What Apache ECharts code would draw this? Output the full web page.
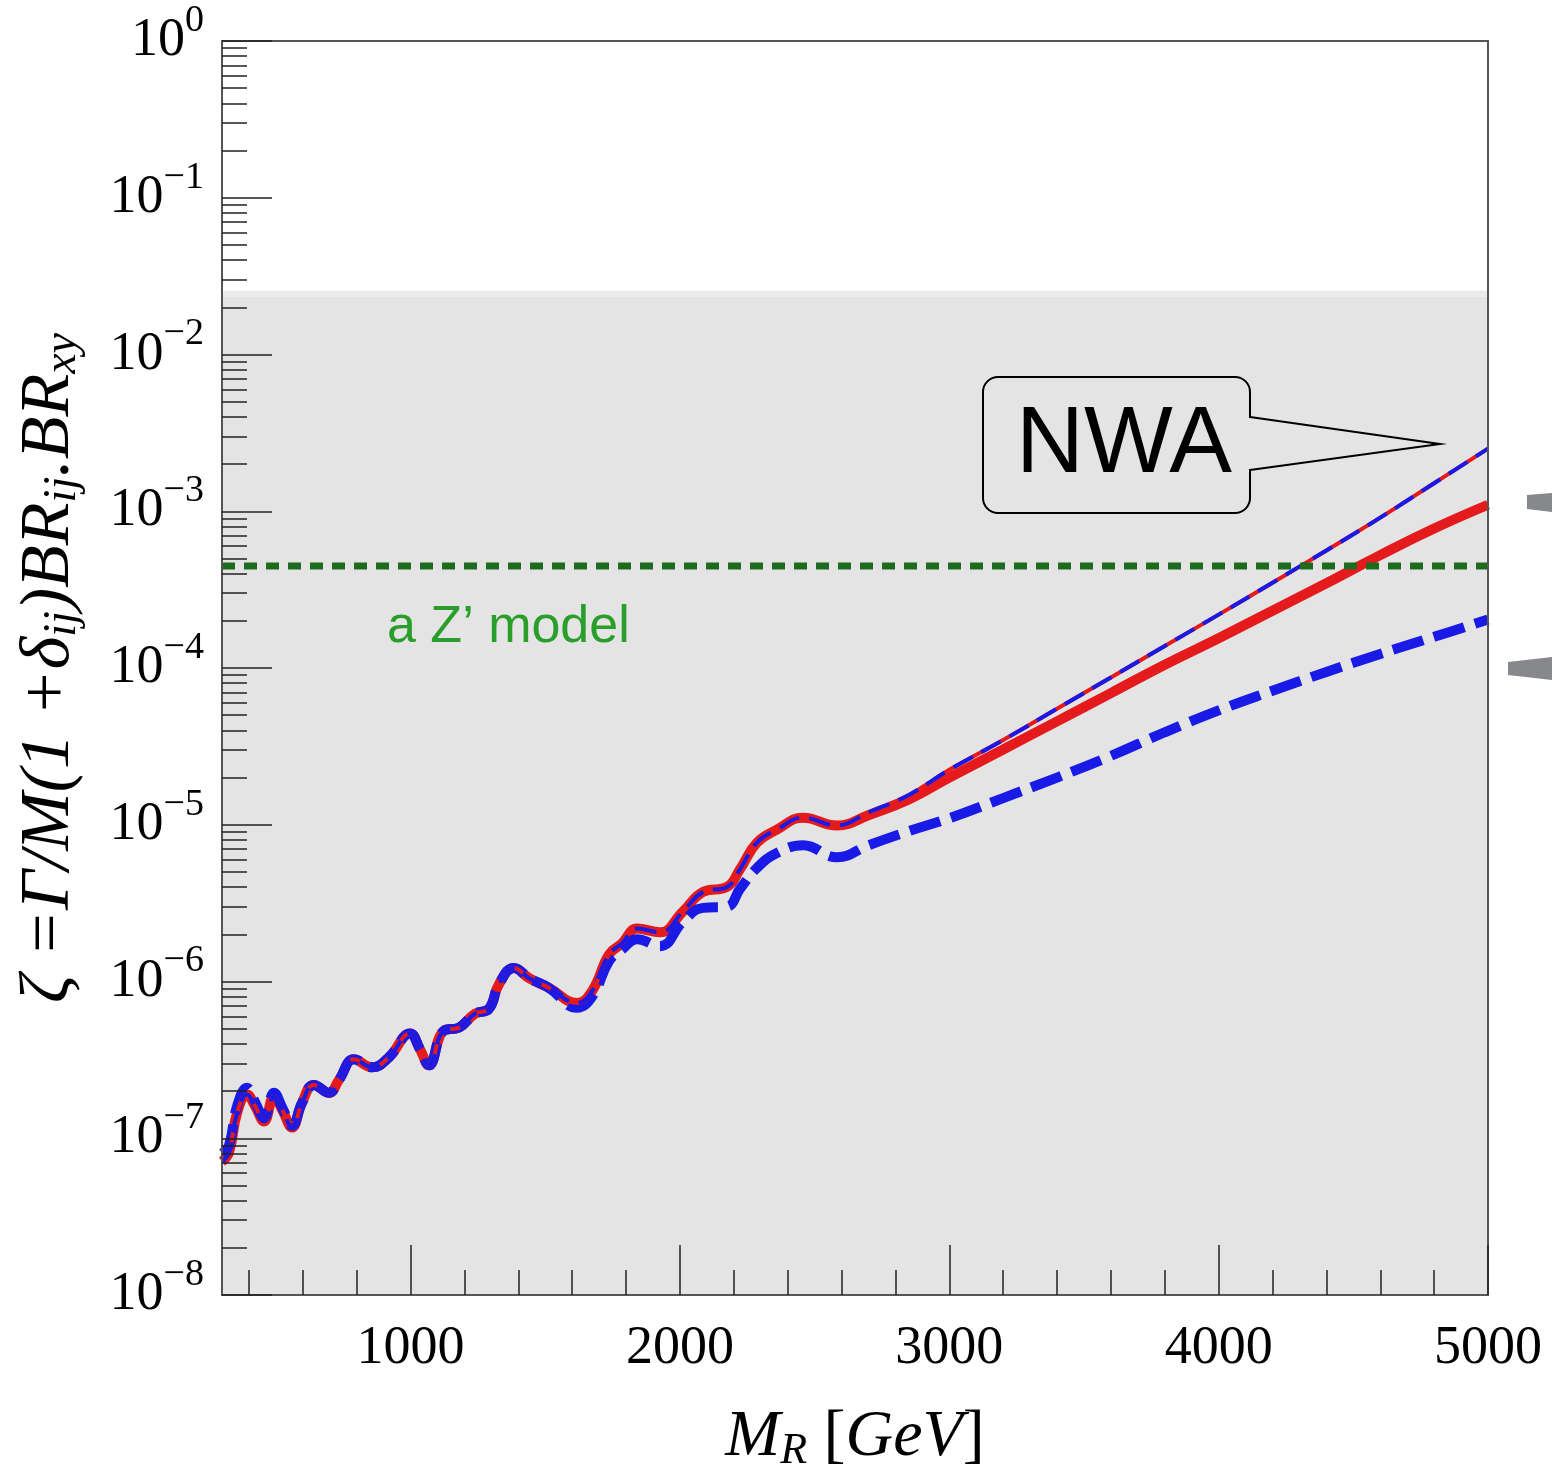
<!DOCTYPE html>
<html>
<head>
<meta charset="utf-8">
<script src="https://cdn.jsdelivr.net/npm/echarts@6/dist/echarts.min.js"></script>
<style>
html, body { margin: 0; background: #fff; }
#main { width: 1552px; height: 1478px; }
</style>
</head>
<body>
<div id="main"></div>
<script>
// resonance mass grid [GeV]
var mass = [300, 326, 356, 393, 423, 456, 493, 525, 560, 597, 641, 697, 734, 790, 857, 920, 998, 1035, 1068,
    1124, 1180, 1239, 1291, 1328, 1384, 1440, 1514, 1618, 1674, 1737, 1785, 1841, 1926, 2011, 2086, 2175,
    2223, 2286, 2360, 2457, 2583, 2700, 2850, 3000, 3200, 3400, 3600, 3800, 4000, 4200, 4400, 4600, 4800, 5000];

// red thick solid
var zetaRed = [7.1e-8, 8.1e-8, 1.45e-7, 1.9e-7, 1.6e-7, 1.28e-7, 1.84e-7, 1.5e-7, 1.17e-7, 1.68e-7, 2.19e-7, 1.95e-7, 2.35e-7, 3.19e-7, 2.84e-7, 3.29e-7, 4.66e-7, 3.7e-7, 2.92e-7,
    4.86e-7, 5.08e-7, 6.23e-7, 6.7e-7, 9.6e-7, 1.22e-6, 1.05e-6, 9.1e-7, 7.3e-7, 8.7e-7, 1.49e-6, 1.75e-6, 2.18e-6, 2.06e-6, 2.79e-6, 3.73e-6, 4.01e-6,
    5.2e-6, 7.7e-6, 9.3e-6, 1.11e-5, 9.9e-6, 1.15e-5, 1.45e-5, 2.0e-5, 3.02e-5, 4.57e-5, 6.92e-5, 1.05e-4, 1.55e-4, 2.32e-4, 3.47e-4, 5.25e-4, 7.76e-4, 1.1e-3];

// blue thick dashed
var zetaBlue = [8.0e-8, 9.0e-8, 1.6e-7, 2.1e-7, 1.7e-7, 1.35e-7, 1.95e-7, 1.55e-7, 1.2e-7, 1.68e-7, 2.19e-7, 1.95e-7, 2.35e-7, 3.19e-7, 2.84e-7, 3.29e-7, 4.66e-7, 3.7e-7, 2.92e-7,
    4.86e-7, 5.08e-7, 6.23e-7, 6.7e-7, 9.6e-7, 1.22e-6, 1.05e-6, 9.1e-7, 6.8e-7, 8.0e-7, 1.35e-6, 1.6e-6, 1.86e-6, 1.68e-6, 2.41e-6, 2.95e-6, 3.0e-6,
    3.9e-6, 5.3e-6, 6.6e-6, 7.4e-6, 6.2e-6, 7.4e-6, 9.1e-6, 1.1e-5, 1.48e-5, 2.0e-5, 2.75e-5, 3.89e-5, 5.37e-5, 7.16e-5, 9.44e-5, 1.23e-4, 1.58e-4, 2.04e-4];

// NWA (thin red / blue dashed)
var zetaNWA = [7.1e-8, 8.1e-8, 1.45e-7, 1.9e-7, 1.6e-7, 1.28e-7, 1.84e-7, 1.5e-7, 1.17e-7, 1.68e-7, 2.19e-7, 1.95e-7, 2.35e-7, 3.19e-7, 2.84e-7, 3.29e-7, 4.66e-7, 3.7e-7, 2.92e-7,
    4.86e-7, 5.08e-7, 6.23e-7, 6.7e-7, 9.6e-7, 1.22e-6, 1.05e-6, 9.1e-7, 7.3e-7, 8.7e-7, 1.49e-6, 1.75e-6, 2.18e-6, 2.06e-6, 2.79e-6, 3.73e-6, 4.01e-6,
    5.2e-6, 7.7e-6, 9.3e-6, 1.11e-5, 9.9e-6, 1.2e-5, 1.55e-5, 2.24e-5, 3.47e-5, 5.5e-5, 8.7e-5, 1.38e-4, 2.19e-4, 3.5e-4, 5.62e-4, 9.1e-4, 1.51e-3, 2.51e-3];

var zModel = 4.48e-4;          // green dotted line
var shadeTop = 0.0256;         // top of grey excluded region
var shadeBand = 0.0234;        // lighter strip under its top edge

var xTicks = [1000, 2000, 3000, 4000, 5000];
var xMinor = [400, 600, 800, 1200, 1400, 1600, 1800, 2200, 2400, 2600, 2800, 3200, 3400, 3600, 3800, 4200, 4400, 4600, 4800];
var yExp = [-8, -7, -6, -5, -4, -3, -2, -1, 0];

var yTicks = yExp.map(function (e) { return Math.pow(10, e); });
var yMinor = [];
for (var i = 0; i < yExp.length - 1; i++) {
    for (var k = 2; k <= 9; k++) {
        yMinor.push(k * Math.pow(10, yExp[i]));
    }
}

function pairs(ys) {
    return mass.map(function (m, i) { return [m, ys[i]]; });
}

var SERIF = 'Liberation Serif';
var frame = {color: '#555', width: 2};

var chart = echarts.init(document.getElementById('main'));

var option = {
    animation: false,
    backgroundColor: '#fff',
    grid: {left: 222, top: 41, width: 1266, height: 1266, containLabel: false},
    xAxis: [
        {
            type: 'value', min: 300, max: 5000, position: 'bottom', z: 10,
            axisLine: {lineStyle: frame},
            axisTick: {customValues: xTicks, inside: true, length: 50, lineStyle: {color: '#222', width: 1.5}},
            axisLabel: {
                customValues: xTicks, fontFamily: SERIF, fontSize: 54, color: '#000', margin: 27,
                formatter: function (v) { return String(v); }
            },
            splitLine: {show: false},
            name: '{i|M}{s|R}{i| }{n|[}{i|GeV}{n|]}',
            nameLocation: 'middle',
            nameGap: 108,
            nameTextStyle: {
                rich: {
                    i: {fontFamily: SERIF, fontStyle: 'italic', fontSize: 66, lineHeight: 70, color: '#000'},
                    n: {fontFamily: SERIF, fontSize: 66, lineHeight: 70, color: '#000'},
                    s: {fontFamily: SERIF, fontStyle: 'italic', fontSize: 44, lineHeight: 44, verticalAlign: 'bottom', color: '#000'}
                }
            }
        },
        {
            type: 'value', min: 300, max: 5000, position: 'bottom', z: 10,
            axisLine: {show: false},
            axisTick: {customValues: xMinor, inside: true, length: 25, lineStyle: {color: '#222', width: 1.5}},
            axisLabel: {show: false},
            splitLine: {show: false}
        },
        {
            type: 'value', min: 300, max: 5000, position: 'top', z: 10,
            axisLine: {lineStyle: frame},
            axisTick: {show: false}, axisLabel: {show: false}, splitLine: {show: false}
        }
    ],
    yAxis: [
        {
            type: 'log', logBase: 10, min: 1e-8, max: 1, position: 'left', z: 10,
            axisLine: {lineStyle: frame},
            axisTick: {customValues: yTicks, inside: true, length: 50, lineStyle: {color: '#222', width: 1.5}},
            axisLabel: {
                customValues: yTicks,
                margin: 18,
                formatter: function (v) {
                    var e = Math.round(Math.log10(v));
                    return '{b|10}{e|' + (e < 0 ? '\u2212' + (-e) : e) + '}';
                },
                rich: {
                    b: {fontFamily: SERIF, fontSize: 54, lineHeight: 78, color: '#000'},
                    e: {fontFamily: SERIF, fontSize: 38, lineHeight: 38, verticalAlign: 'top', color: '#000'}
                }
            },
            splitLine: {show: false},
            name: '{i|\u03b6 =\u0393/M(1 +\u03b4}{s|ij}{i|)BR}{s|ij}{i|.BR}{s|xy}',
            nameLocation: 'middle',
            nameRotate: 90,
            nameGap: 136,
            nameTextStyle: {
                rich: {
                    i: {fontFamily: SERIF, fontStyle: 'italic', fontSize: 70, lineHeight: 72, color: '#000'},
                    s: {fontFamily: SERIF, fontStyle: 'italic', fontSize: 46, lineHeight: 46, verticalAlign: 'bottom', color: '#000'}
                }
            }
        },
        {
            type: 'log', logBase: 10, min: 1e-8, max: 1, position: 'left', z: 10,
            axisLine: {show: false},
            axisTick: {customValues: yMinor, inside: true, length: 25, lineStyle: {color: '#222', width: 1.5}},
            axisLabel: {show: false},
            splitLine: {show: false}
        },
        {
            type: 'log', logBase: 10, min: 1e-8, max: 1, position: 'right', z: 10,
            axisLine: {lineStyle: frame},
            axisTick: {show: false}, axisLabel: {show: false}, splitLine: {show: false}
        }
    ],
    series: [
        {
            name: 'shade', type: 'line', z: 1, silent: true,
            data: [[300, shadeTop], [5000, shadeTop]],
            symbol: 'none', lineStyle: {width: 0, opacity: 0},
            markArea: {
                silent: true,
                data: [
                    [{coord: [300, 1e-8], itemStyle: {color: '#e4e4e4'}}, {coord: [5000, shadeBand]}],
                    [{coord: [300, shadeBand], itemStyle: {color: '#ebebeb'}}, {coord: [5000, shadeTop]}]
                ]
            }
        },
        {
            name: 'full', type: 'line', z: 3, data: pairs(zetaRed),
            symbol: 'none', smooth: 0.45,
            lineStyle: {color: '#e41a1c', width: 10}
        },
        {
            name: 'full-blue', type: 'line', z: 4, data: pairs(zetaBlue),
            symbol: 'none', smooth: 0.45,
            lineStyle: {color: '#1a1ae6', width: 10, type: [32, 11]}
        },
        {
            name: 'NWA', type: 'line', z: 5, data: pairs(zetaNWA),
            symbol: 'none', smooth: 0.45,
            lineStyle: {color: '#e41a1c', width: 4}
        },
        {
            name: 'NWA-blue', type: 'line', z: 6, data: pairs(zetaNWA),
            symbol: 'none', smooth: 0.45,
            lineStyle: {color: '#1a1ae6', width: 4, type: [22, 10]}
        },
        {
            name: 'Zp', type: 'line', z: 7, data: [[300, zModel], [5000, zModel]],
            symbol: 'none',
            lineStyle: {color: '#1d6b1d', width: 7, type: [13, 9]}
        }
    ],
    graphic: [
        {
            type: 'rect', z: 20,
            shape: {x: 983, y: 377, width: 267, height: 136, r: 15},
            style: {fill: 'rgba(0,0,0,0)', stroke: '#000', lineWidth: 2}
        },
        {
            type: 'rect', z: 21,
            shape: {x: 1247, y: 418, width: 6, height: 51},
            style: {fill: '#e4e4e4'}
        },
        {
            type: 'polyline', z: 22,
            shape: {points: [[1250, 417], [1440, 444], [1250, 470]]},
            style: {fill: null, stroke: '#000', lineWidth: 2}
        },
        {
            type: 'text', z: 22, x: 1124, y: 446,
            style: {text: 'NWA', font: '94px "Liberation Sans"', fill: '#000', align: 'center', verticalAlign: 'middle'}
        },
        {
            type: 'text', z: 22, x: 387, y: 628,
            style: {text: 'a Z\u2019 model', font: '52px "Liberation Sans"', fill: '#2a9e2a', align: 'left', verticalAlign: 'middle'}
        },
        {
            type: 'polygon', z: 22,
            shape: {points: [[1527, 495], [1552, 493], [1552, 512], [1527, 509]]},
            style: {fill: '#86888b'}
        },
        {
            type: 'polygon', z: 22,
            shape: {points: [[1508, 662], [1552, 657], [1552, 680], [1508, 675]]},
            style: {fill: '#86888b'}
        }
    ]
};

chart.setOption(option);
</script>
</body>
</html>
